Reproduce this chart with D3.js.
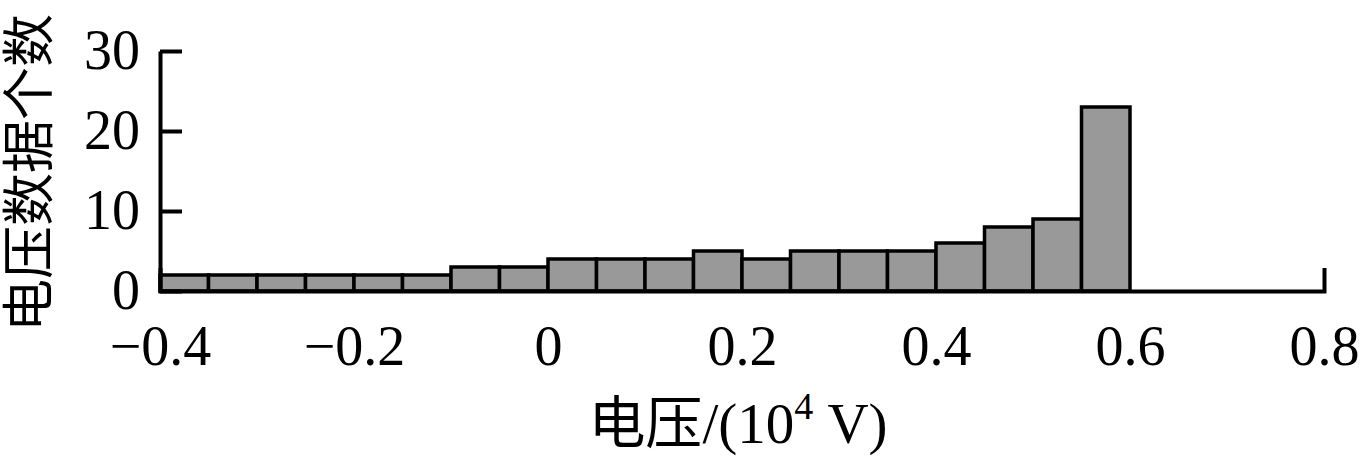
<!DOCTYPE html>
<html><head><meta charset="utf-8">
<script src="https://cdn.jsdelivr.net/npm/d3@7"></script>
<style>body{margin:0;background:#fff}</style>
</head><body>
<script>
const binStarts = [-0.4,-0.35,-0.3,-0.25,-0.2,-0.15,-0.1,-0.05,0,0.05,0.1,0.15,0.2,0.25,0.3,0.35,0.4,0.45,0.5,0.55];
const counts    = [2,2,2,2,2,2,3,3,4,4,4,5,4,5,5,5,6,8,9,23];
const binWidth = 0.05;
const xTicks = [-0.4,-0.2,0,0.2,0.4,0.6,0.8];
const yTicks = [0,10,20,30];
const yTitle = "电压数据个数";

const W=1361,H=462;
const svg=d3.select("body").append("svg").attr("width",W).attr("height",H);
const x=d3.scaleLinear().domain([-0.4,0.8]).range([160,1324]);
const y=d3.scaleLinear().domain([0,30]).range([291,51]);
const serif='"Liberation Serif","Times New Roman",serif';

svg.append("g").selectAll("rect").data(binStarts).join("rect")
  .attr("x",d=>x(d)).attr("width",d=>x(d+binWidth)-x(d))
  .attr("y",(d,i)=>y(counts[i])).attr("height",(d,i)=>y(0)-y(counts[i]))
  .attr("fill","#999999").attr("stroke","#000").attr("stroke-width",3.5);

const fmt=d=>d===0?"0":(d<0?"−":"")+Math.abs(d).toFixed(1);
const gx=svg.append("g").attr("transform",`translate(0,${y(0)})`)
  .call(d3.axisBottom(x).tickValues(xTicks).tickFormat(fmt).tickSizeInner(0).tickSizeOuter(-23).tickPadding(34));
gx.select(".domain").attr("stroke-width",4);
gx.selectAll("text").attr("font-family",serif).attr("font-size",56).attr("fill","#000");

const gy=svg.append("g").attr("transform",`translate(${x(-0.4)},0)`)
  .call(d3.axisLeft(y).tickValues(yTicks).tickSizeInner(-22).tickSizeOuter(0).tickPadding(20));
gy.select(".domain").attr("stroke-width",4);
gy.selectAll("line").attr("stroke-width",4);
gy.selectAll("text").attr("font-family",serif).attr("font-size",56).attr("fill","#000");

const t=svg.append("text").attr("x",738).attr("y",443).attr("text-anchor","middle")
  .attr("font-size",57).attr("fill","#000");
t.append("tspan").attr("font-family",'"Noto Sans CJK SC",sans-serif').text("电压");
t.append("tspan").attr("font-family",serif).text("/(10");
t.append("tspan").attr("font-family",serif).attr("font-size",38).attr("dy",-24).text("4");
t.append("tspan").attr("font-family",serif).attr("dy",24).text(" V)");

svg.append("text").attr("transform","translate(48,173) rotate(-90)").attr("text-anchor","middle")
  .attr("font-family",'"Noto Sans CJK SC",sans-serif').attr("font-size",53).attr("fill","#000").text(yTitle);
</script>
</body></html>
